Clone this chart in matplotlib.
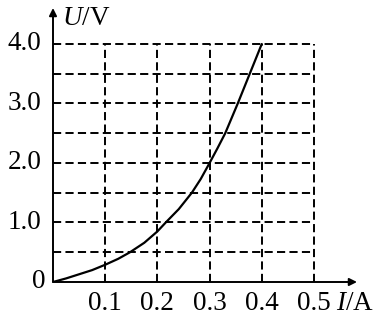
# U-I curve with dashed grid
import numpy as np
import matplotlib as mpl
mpl.use('Agg')
import matplotlib.pyplot as plt

plt.rcParams['font.family'] = 'Liberation Serif'
plt.rcParams['mathtext.fontset'] = 'custom'
plt.rcParams['mathtext.rm'] = 'Liberation Serif'
plt.rcParams['mathtext.it'] = 'Liberation Serif:italic'

# data
current = [0, 0.025, 0.05, 0.075, 0.1, 0.125, 0.1475, 0.175, 0.2, 0.216,
           0.241, 0.266, 0.283, 0.30, 0.315, 0.33, 0.354, 0.377, 0.40]
voltage = [0, 0.06, 0.13, 0.20, 0.29, 0.39, 0.5, 0.66, 0.85, 1.0,
           1.225, 1.5, 1.73, 2.0, 2.245, 2.5, 3.0, 3.5, 4.0]
x_ticks = [0.1, 0.2, 0.3, 0.4, 0.5]
x_labels = ['0.1', '0.2', '0.3', '0.4', '0.5']
y_ticks = [1.0, 2.0, 3.0, 4.0]
y_labels = ['1.0', '2.0', '3.0', '4.0']
y_grid = [0.5, 1.0, 1.5, 2.0, 2.5, 3.0, 3.5, 4.0]

fig = plt.figure(figsize=(3.89, 3.16), dpi=100)
ax = fig.add_axes([53/389, 34/316, 304/389, 274/316])
ax.set_xlim(0, 0.5825)
ax.set_ylim(0, 4.605)
ax.axis('off')

# dashed grid
dash = (0, (4.2, 2.2))
for x in x_ticks:
    ax.plot([x, x], [0, 4.0], color='black', lw=1.4, linestyle=dash)
for y in y_grid:
    ax.plot([0, 0.5], [y, y], color='black', lw=1.4, linestyle=dash)

# the curve
ax.plot(current, voltage, color='black', lw=1.6, solid_capstyle='round',
        solid_joinstyle='round')

# axes with arrows
ax.annotate('', xy=(0.5825, 0), xytext=(0, 0),
            arrowprops=dict(arrowstyle='-|>', color='black', lw=1.4,
                            mutation_scale=11, shrinkA=0, shrinkB=0))
ax.annotate('', xy=(0, 4.605), xytext=(0, 0),
            arrowprops=dict(arrowstyle='-|>', color='black', lw=1.4,
                            mutation_scale=11, shrinkA=0, shrinkB=0))

# tick labels
fs = 19.5
for x, lab in zip(x_ticks, x_labels):
    ax.text(x, -0.47, lab, ha='center', va='baseline', fontsize=fs)
for y, lab in zip(y_ticks, y_labels):
    ax.text(-0.022, y, lab, ha='right', va='center', fontsize=fs)
ax.text(-0.015, 0, '0', ha='right', va='center', fontsize=fs)

# axis titles
ax.text(0.543, -0.47, '$I$/A', ha='left', va='baseline', fontsize=fs)
ax.text(0.018, 4.64, '$U$/V', ha='left', va='top', fontsize=fs)

plt.savefig('out.png', dpi=100)
